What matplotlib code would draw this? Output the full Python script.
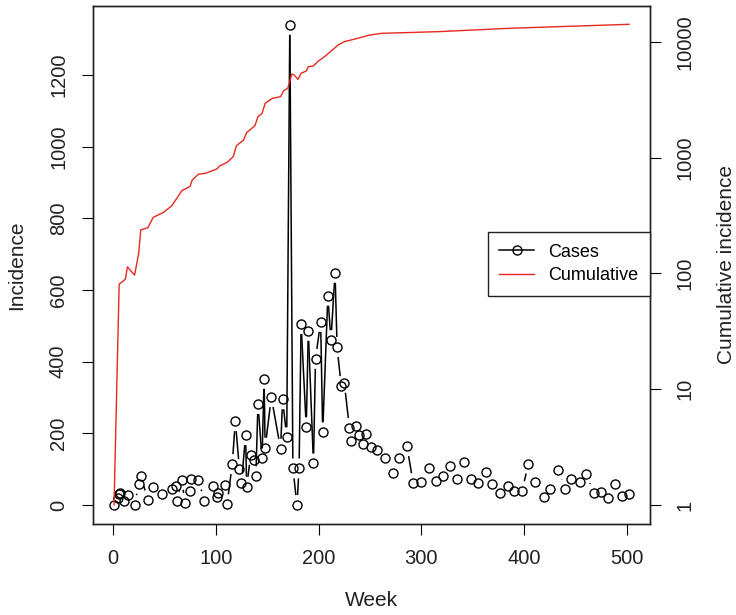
import numpy as np
import matplotlib
matplotlib.use('Agg')
import matplotlib.pyplot as plt
from matplotlib.collections import LineCollection
from matplotlib.lines import Line2D
from matplotlib.ticker import NullLocator

plt.rcParams['font.family'] = ['Liberation Sans', 'DejaVu Sans']

# weekly case counts
weeks = [1, 5, 6, 7, 11, 15, 21, 25, 27, 34, 39, 48, 57, 61, 62, 67, 70, 75, 76, 83,
         89, 97, 101, 102, 109, 111, 116, 119, 123, 125, 129, 130, 134, 137, 139, 141,
         145, 147, 148, 154, 163, 165, 169, 172, 175, 179, 181, 183, 188, 190, 195,
         197, 202, 204, 209, 212, 216, 218, 222, 225, 230, 232, 236, 239, 243, 246,
         251, 257, 265, 272, 278, 286, 292, 300, 307, 314, 321, 328, 335, 341, 348,
         355, 363, 369, 376, 384, 390, 398, 404, 411, 419, 425, 433, 440, 446, 454,
         460, 468, 475, 482, 488, 495, 502]
cases = [0, 19, 30, 33, 11, 28, 0, 59, 81, 14, 51, 30, 46, 54, 10, 70, 6, 40, 72, 70,
         12, 52, 23, 33, 57, 2, 114, 234, 100, 62, 195, 51, 140, 127, 80, 282,
         130, 352, 160, 301, 157, 295, 189, 1340, 102, 0, 102, 505, 217, 486, 116,
         408, 511, 203, 584, 460, 648, 441, 332, 341, 215, 178, 221, 194, 169, 198,
         163, 153, 130, 89, 132, 164, 61, 65, 102, 68, 82, 108, 73, 121, 73,
         62, 93, 59, 34, 52, 40, 39, 115, 63, 22, 46, 97, 44, 72, 65,
         87, 33, 35, 19, 59, 26, 31]

# cumulative incidence curve (log axis)
cum_weeks = [1, 6, 12, 14, 21, 25, 27, 34, 39, 49, 57, 61, 67, 75, 77, 83, 90, 101,
             104, 111, 117, 120, 127, 130, 138, 141, 145, 148, 155, 163, 166, 170,
             174, 176, 180, 183, 188, 190, 195, 199, 207, 219, 225, 237, 249, 261,
             318, 385, 502]
cum_cases = [1, 81, 89, 114, 97, 149, 238, 249, 305, 337, 383, 432, 520, 565, 640,
             720, 734, 800, 852, 912, 1022, 1270, 1420, 1650, 1890, 2260, 2420, 2950,
             3260, 3370, 3800, 3980, 5290, 5200, 4760, 5370, 5620, 6120, 6200, 6760,
             7620, 9420, 10070, 10700, 11450, 11880, 12300, 13130, 14220]


# R's type="b": lines between points that stop short of each marker
def gapped_segments(ax, x, y, gap=10):
    pts = ax.transData.transform(np.column_stack([x, y]))
    inv = ax.transData.inverted()
    segs = []
    for p, q in zip(pts[:-1], pts[1:]):
        d = q - p
        n = np.hypot(d[0], d[1])
        if n <= 2 * gap:
            continue
        u = d / n
        segs.append(inv.transform(np.array([p + u * gap, q - u * gap])))
    return segs


fig = plt.figure(figsize=(7.36, 6.15), dpi=100)
ax = fig.add_axes([93 / 736, 91 / 615, 557 / 736, 518 / 615])
ax.set_xlim(-19.46, 522.4)
ax.set_ylim(-53, 1392.6)

segs = gapped_segments(ax, weeks, cases)
ax.add_collection(LineCollection(segs, colors='black', linewidths=1.1))
ax.plot(weeks, cases, 'o', mfc='none', mec='black', ms=6.5, mew=1.0)

ax.set_xticks([0, 100, 200, 300, 400, 500])
ax.set_yticks([0, 200, 400, 600, 800, 1000, 1200])
ax.tick_params(direction='out', length=8, width=0.8, labelsize=14.5, pad=10,
               labelcolor='#222222')
plt.setp(ax.get_yticklabels(), rotation=90, va='center')
for s in ax.spines.values():
    s.set_linewidth(1.0)
    s.set_color('#222222')

ax2 = ax.twinx()
ax2.set_yscale('log')
ax2.set_ylim(0.685, 20470)
ax2.plot(cum_weeks, cum_cases, color='#e8281e', lw=1.0)
ax2.set_yticks([1, 10, 100, 1000, 10000])
ax2.set_yticklabels(['1', '10', '100', '1000', '10000'])
ax2.yaxis.set_minor_locator(NullLocator())
ax2.tick_params(direction='out', length=8, width=0.8, labelsize=14.5, pad=10,
                labelcolor='#222222')
plt.setp(ax2.get_yticklabels(), rotation=90, va='center')
for s in ax2.spines.values():
    s.set_linewidth(1.0)
    s.set_color('#222222')

fig.text(371.5 / 736, (615 - 601) / 615, 'Week', ha='center', va='center',
         fontsize=15, color='#222222')
fig.text(17 / 736, (615 - 265) / 615, 'Incidence', ha='center', va='center',
         rotation=90, fontsize=15, color='#222222')
fig.text(727 / 736, (615 - 265) / 615, 'Cumulative incidence', ha='center',
         va='center', rotation=90, fontsize=15, color='#222222')

handles = [Line2D([], [], color='black', lw=1.1, marker='o', mfc='none', ms=6.5, mew=1.0),
           Line2D([], [], color='#e8281e', lw=1.0)]
leg = ax2.legend(handles, ['Cases', 'Cumulative'], loc='upper right',
                 bbox_to_anchor=(1.0, 0.5637), borderaxespad=0, fontsize=13,
                 fancybox=False, framealpha=1, edgecolor='#222222',
                 handlelength=1.9, handletextpad=0.8, labelspacing=0.35,
                 borderpad=0.65)
leg.get_frame().set_linewidth(1.0)

fig.savefig('out.png', dpi=100)
